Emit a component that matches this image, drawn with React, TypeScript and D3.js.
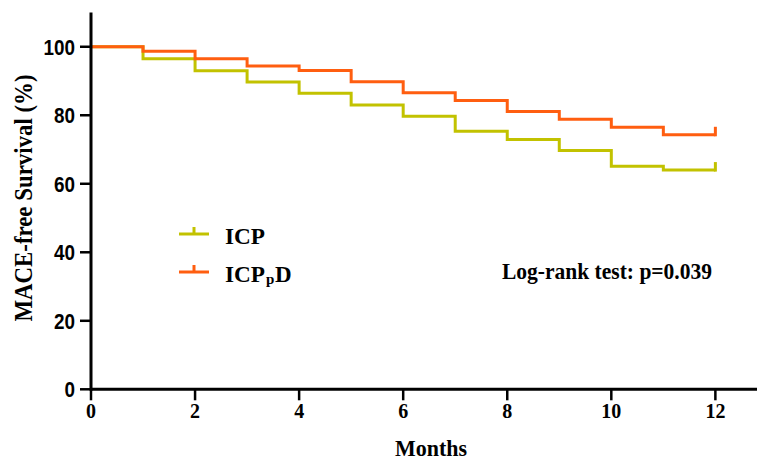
import React from 'react';
import * as d3 from 'd3';

const months = [0, 1, 2, 3, 4, 5, 6, 7, 8, 9, 10, 11, 12];
const icpSurvival = [100, 96.5, 93.0, 89.7, 86.4, 83.0, 79.7, 75.3, 72.9, 69.7, 65.1, 64.0, 64.0];
const icppdSurvival = [100, 98.7, 96.5, 94.4, 93.1, 89.8, 86.6, 84.3, 81.1, 78.8, 76.5, 74.3, 74.3];
const xTicks = [0, 2, 4, 6, 8, 10, 12];
const yTicks = [0, 20, 40, 60, 80, 100];
const seriesNames = ['ICP', 'ICPpD'];
const seriesColors = ['#c2c200', '#ff5e10'];

const W = 758;
const H = 460;
const serif = '"Liberation Serif", "Times New Roman", serif';
const sans = '"Liberation Sans", Arial, sans-serif';

export default function App() {
    const x = d3.scaleLinear().domain([0, 12.8]).range([91, 757]);
    const y = d3.scaleLinear().domain([0, 110]).range([389.3, 12.5]);

    const line = d3.line<[number, number]>()
        .x(d => x(d[0]))
        .y(d => y(d[1]))
        .curve(d3.curveStepAfter);

    const series = [icpSurvival, icppdSurvival].map(vals =>
        months.map((m, i) => [m, vals[i]] as [number, number]));

    // legend rows: line y
    const legendY = [234, 272];
    const legendFont = { fontFamily: serif, fontWeight: 'bold' as const };

    return (
        <svg width={W} height={H} style={{ position: 'absolute', left: 0, top: 0, background: '#fff' }}>
            {/* curves */}
            {series.map((s, i) => {
                const last = s[s.length - 1];
                return (
                    <g key={i} stroke={seriesColors[i]} strokeWidth={3} fill="none">
                        <path d={line(s) || ''} strokeLinejoin="miter" />
                        <line x1={x(last[0])} x2={x(last[0])} y1={y(last[1]) + 1.5} y2={y(last[1]) - 8} />
                    </g>
                );
            })}

            {/* axes */}
            <line x1={x(0)} x2={x(12.8)} y1={y(0)} y2={y(0)} stroke="#000" strokeWidth={3} />
            <line x1={x(0)} x2={x(0)} y1={y(0) + 1.5} y2={y(110)} stroke="#000" strokeWidth={3} />
            {yTicks.map(t => (
                <g key={t}>
                    <line x1={x(0) - 11} x2={x(0)} y1={y(t)} y2={y(t)} stroke="#000" strokeWidth={2.5} />
                    <text x={x(0) - 16} y={y(t)} dy="0.36em" textAnchor="end"
                        fontFamily={sans} fontWeight="bold" fontSize={22}
                        textLength={String(t).length * 10.5} lengthAdjust="spacingAndGlyphs">{t}</text>
                </g>
            ))}
            {xTicks.map(t => (
                <g key={t}>
                    <line x1={x(t)} x2={x(t)} y1={y(0)} y2={y(0) + 11} stroke="#000" strokeWidth={2.5} />
                    <text x={x(t)} y={y(0) + 29} textAnchor="middle"
                        fontFamily={serif} fontWeight="bold" fontSize={22}
                        textLength={String(t).length * 10} lengthAdjust="spacingAndGlyphs">{t}</text>
                </g>
            ))}

            <text x={431} y={456} textAnchor="middle" fontFamily={serif} fontWeight="bold" fontSize={24}
                textLength={72} lengthAdjust="spacingAndGlyphs">Months</text>
            <text transform="translate(32,198) rotate(-90)" textAnchor="middle"
                fontFamily={serif} fontWeight="bold" fontSize={25}
                textLength={247} lengthAdjust="spacingAndGlyphs">MACE-free Survival (%)</text>

            {/* legend */}
            {seriesNames.map((name, i) => (
                <g key={name}>
                    <line x1={179} x2={209} y1={legendY[i]} y2={legendY[i]} stroke={seriesColors[i]} strokeWidth={3} />
                    <line x1={194} x2={194} y1={legendY[i]} y2={legendY[i] - 7} stroke={seriesColors[i]} strokeWidth={3} />
                </g>
            ))}
            <text x={225} y={legendY[0] + 9.5} {...legendFont} fontSize={23}
                textLength={40} lengthAdjust="spacingAndGlyphs">ICP</text>
            <text x={225} y={legendY[1] + 9.5} {...legendFont} fontSize={23}
                textLength={40} lengthAdjust="spacingAndGlyphs">ICP</text>
            <text x={266} y={legendY[1] + 12} {...legendFont} fontSize={15}>p</text>
            <text x={275} y={legendY[1] + 9.5} {...legendFont} fontSize={23}>D</text>

            <text x={502} y={279} fontFamily={serif} fontWeight="bold" fontSize={23}
                textLength={210} lengthAdjust="spacingAndGlyphs">
                Log-rank test: p=0.039
            </text>
        </svg>
    );
}
